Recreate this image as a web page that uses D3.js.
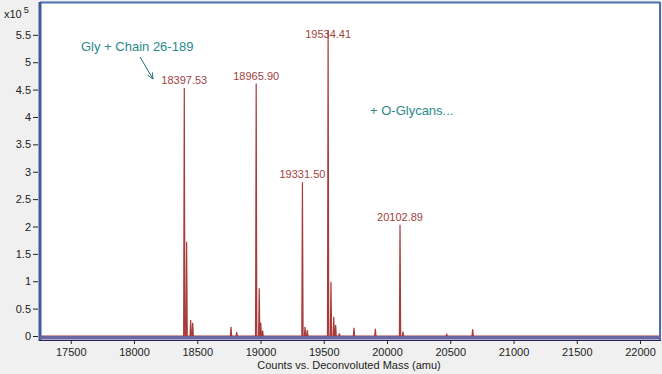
<!DOCTYPE html>
<html>
<head>
<meta charset="utf-8">
<script src="https://cdn.jsdelivr.net/npm/d3@7"></script>
<style>
body { margin: 0; background: #f0f0f0; }
svg { display: block; font-family: "Liberation Sans", Arial, sans-serif; }
</style>
</head>
<body>
<div id="chart"></div>
<script>
// peaks (mass in amu, counts x10^5)
var peakMass   = [18397.53, 18416, 18448, 18464, 18767, 18812,
                  18965.90, 18990, 19002, 19017,
                  19331.50, 19352, 19370,
                  19534.41, 19557, 19579, 19594, 19623,
                  19739, 19908, 20102.89, 20126, 20472, 20677];
var peakHeight = [4.53, 1.72, 0.29, 0.24, 0.17, 0.07,
                  4.61, 0.87, 0.24, 0.10,
                  2.81, 0.17, 0.11,
                  5.59, 0.99, 0.35, 0.20, 0.05,
                  0.15, 0.13, 2.03, 0.08, 0.03, 0.12];
var labelMass  = [18397.53, 18965.90, 19331.50, 19534.41, 20102.89];
var labelText  = ["18397.53", "18965.90", "19331.50", "19534.41", "20102.89"];
var xTicks = [17500, 18000, 18500, 19000, 19500, 20000, 20500, 21000, 21500, 22000];
var yTicks = [0, 0.5, 1, 1.5, 2, 2.5, 3, 3.5, 4, 4.5, 5, 5.5];

var W = 662, H = 374;
var pLeft = 40, pRight = 660, pTop = 2, pBase = 336;

var x = d3.scaleLinear().domain([17257, 22150]).range([pLeft, pRight - 1]);
var y = d3.scaleLinear().domain([0, 6.1]).range([pBase, pTop]);

var svg = d3.select("#chart").append("svg")
    .attr("width", W)
    .attr("height", H);

svg.append("rect")
    .attr("width", W).attr("height", H)
    .attr("fill", "#f0f0f0");

// plot area
svg.append("rect")
    .attr("x", pLeft).attr("y", pTop)
    .attr("width", pRight - pLeft).attr("height", 339 - pTop)
    .attr("fill", "#ffffff");

// spectrum profile: narrow triangles on a zero baseline
var halfW = 5;
var pts = [[x.domain()[0], 0]];
peakMass.forEach(function (m, i) {
    pts.push([m - halfW, 0]);
    pts.push([m, peakHeight[i]]);
    pts.push([m + halfW, 0]);
});
pts.push([x.domain()[1], 0]);
pts.sort(function (a, b) { return a[0] - b[0]; });

var line = d3.line()
    .x(function (d) { return x(d[0]); })
    .y(function (d) { return y(d[1]); });

svg.append("path")
    .datum(pts)
    .attr("d", line)
    .attr("fill", "none")
    .attr("stroke", "#a83a3a")
    .attr("stroke-width", 1.2)
    .attr("stroke-linejoin", "miter");

// frame
svg.append("line").attr("x1", pLeft).attr("x2", pRight).attr("y1", 2.5).attr("y2", 2.5)
    .attr("stroke", "#4a70ae").attr("stroke-width", 2);
svg.append("line").attr("x1", pRight).attr("x2", pRight).attr("y1", 2).attr("y2", 340)
    .attr("stroke", "#4a70ae").attr("stroke-width", 2);
svg.append("line").attr("x1", pLeft).attr("x2", pLeft).attr("y1", 2).attr("y2", 341)
    .attr("stroke", "#3c5c98").attr("stroke-width", 3);
svg.append("line").attr("x1", pLeft).attr("x2", pRight + 1).attr("y1", 337.8).attr("y2", 337.8)
    .attr("stroke", "#6a66a2").attr("stroke-width", 3.6);
svg.append("line").attr("x1", pLeft - 1).attr("x2", pRight + 1).attr("y1", 340.5).attr("y2", 340.5)
    .attr("stroke", "#1e2858").attr("stroke-width", 1);

// y axis
var yAxis = svg.append("g")
    .attr("transform", "translate(" + (pLeft - 2) + ",0)")
    .call(d3.axisLeft(y).tickValues(yTicks).tickSize(5).tickPadding(2)
        .tickFormat(function (d) { return d; }));
yAxis.select(".domain").remove();
yAxis.selectAll("line").attr("stroke", "#222");
yAxis.selectAll("text").attr("font-size", 11).attr("fill", "#222")
    .attr("font-family", "Liberation Sans, Arial, sans-serif");

// x axis
var xAxis = svg.append("g")
    .attr("transform", "translate(0,341)")
    .call(d3.axisBottom(x).tickValues(xTicks).tickSize(3).tickPadding(4)
        .tickFormat(d3.format("d")));
xAxis.select(".domain").remove();
xAxis.selectAll("line").attr("stroke", "#222");
xAxis.selectAll("text").attr("font-size", 11).attr("fill", "#222")
    .attr("font-family", "Liberation Sans, Arial, sans-serif");

// axis titles
svg.append("text")
    .attr("x", 349).attr("y", 369)
    .attr("text-anchor", "middle")
    .attr("font-size", 11).attr("fill", "#222")
    .text("Counts vs. Deconvoluted Mass (amu)");

var mult = svg.append("text").attr("x", 4).attr("y", 18)
    .attr("font-size", 11).attr("fill", "#222");
mult.append("tspan").text("x10");
mult.append("tspan").attr("dx", 2).attr("dy", -5).attr("font-size", 9).text("5");

// peak labels
labelMass.forEach(function (m, i) {
    var h = peakHeight[peakMass.indexOf(m)];
    svg.append("text")
        .attr("x", x(m))
        .attr("y", Math.max(y(h) - 4, 38))
        .attr("text-anchor", "middle")
        .attr("font-size", 11)
        .attr("fill", "#a0423e")
        .text(labelText[i]);
});

// annotations
svg.append("text")
    .attr("x", 81).attr("y", 51)
    .attr("font-size", 13).attr("fill", "#2a8a8c")
    .text("Gly + Chain 26-189");
svg.append("text")
    .attr("x", 370).attr("y", 115)
    .attr("font-size", 13).attr("fill", "#2a8a8c")
    .text("+ O-Glycans...");

svg.append("defs").append("marker")
    .attr("id", "arr")
    .attr("viewBox", "0 0 10 10")
    .attr("refX", 9).attr("refY", 5)
    .attr("markerWidth", 7).attr("markerHeight", 7)
    .attr("markerUnits", "userSpaceOnUse")
    .attr("orient", "auto")
    .append("path")
    .attr("d", "M0,1 L9,5 L0,9")
    .attr("fill", "none")
    .attr("stroke", "#1f6f70")
    .attr("stroke-width", 1.2);

svg.append("line")
    .attr("x1", 140).attr("y1", 57)
    .attr("x2", 153).attr("y2", 79)
    .attr("stroke", "#1f6f70").attr("stroke-width", 1)
    .attr("marker-end", "url(#arr)");
</script>
</body>
</html>
